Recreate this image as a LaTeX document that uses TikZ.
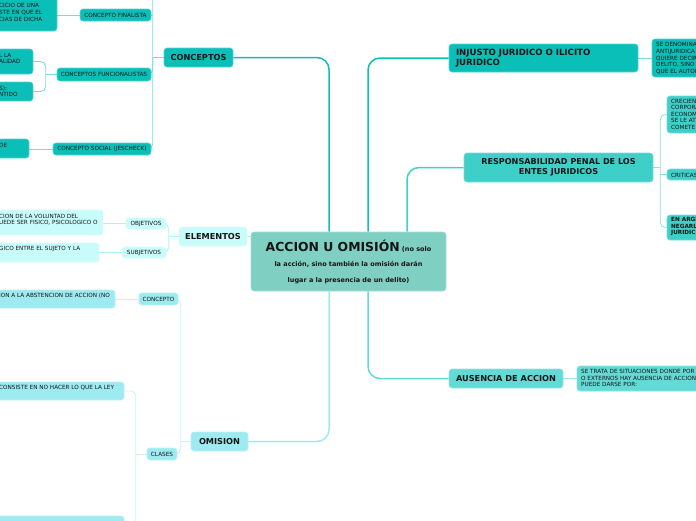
\documentclass[tikz,border=0pt]{standalone}
\usepackage{fontspec}
\setmainfont{DejaVu Sans}
\usetikzlibrary{backgrounds}
\definecolor{cA}{HTML}{0BBFB9}
\definecolor{cR}{HTML}{3FCFC9}
\definecolor{cU}{HTML}{63DAD6}
\definecolor{cC}{HTML}{80CFC3}
\definecolor{cE}{HTML}{C8FCFB}
\definecolor{cO}{HTML}{9DEAF0}
\definecolor{ink}{HTML}{141414}
\begin{document}
\begin{tikzpicture}[x=1pt,y=-1pt,
  box/.style={rounded corners=3pt, inner sep=0pt, draw=#1!70!white, line width=0.6pt, fill=#1, text=ink},
  big/.style={font=\bfseries\fontsize{8.2}{10}\selectfont},
  lab/.style={font=\fontsize{5.7}{6.6}\selectfont},
  leaf/.style={font=\fontsize{5.7}{6.6}\selectfont, align=left, inner sep=0pt, anchor=west, text=ink},
  mainln/.style={line width=1.5pt, rounded corners=12pt},
  subln/.style={line width=0.8pt, rounded corners=5pt},
]
\useasboundingbox (0,0) rectangle (696,520);

% ---------- nodes ----------
\node[box=cC, minimum width=195, minimum height=59, align=center,
      font=\bfseries\fontsize{6.5}{15.5}\selectfont] (center) at (348.5,261.5)
  {{\fontsize{12.4}{15.5}\selectfont ACCION U OMISIÓN} (no solo\\la acción, sino también la omisión darán\\lugar a la presencia de un delito)};

\node[box=cA, minimum width=69, minimum height=19, big] (conceptos) at (198.5,57.5) {CONCEPTOS};
\node[box=cE, minimum width=68, minimum height=19, big] (elementos) at (213,236.5) {ELEMENTOS};
\node[box=cO, minimum width=57, minimum height=19, big] (omision) at (219.5,441.5) {OMISION};
\node[box=cA, minimum width=189, minimum height=28, text width=175, align=left,
      font=\bfseries\fontsize{8.6}{10.2}\selectfont] (injusto) at (543.5,58) {INJUSTO JURIDICO O ILICITO\\JURIDICO};
\node[box=cR, minimum width=189, minimum height=29, align=center,
      font=\bfseries\fontsize{8.1}{10.2}\selectfont] (resp) at (558.5,167.5) {RESPONSABILIDAD PENAL DE LOS\\ENTES JURIDICOS};
\node[box=cU, minimum width=114, minimum height=19, big] (ausencia) at (506,378.5) {AUSENCIA DE ACCION};

% right leaves
\node[box=cA, minimum width=78, minimum height=38] (injleaf) at (691,58) {};
\node[leaf] (injleaft) at (656,58.3) {SE DENOMINA\\ANTIJURIDICA\\QUIERE DECIR\\DELITO, SINO\\QUE EL AUTOR};
\node[box=cR, minimum width=63, minimum height=37] (r1) at (698.5,114.5) {};
\node[leaf] (r1t) at (671,114.3) {CRECIEN\\CORPORA\\ECONOM\\SE LE AT\\COMETE};
\node[box=cR, minimum width=63, minimum height=11] (r2) at (698.5,174.5) {};
\node[leaf] (r2t) at (671,175) {CRITICAS};
\node[box=cR, minimum width=63, minimum height=25] (r3) at (698.5,227.5) {};
\node[leaf, font=\bfseries\fontsize{5.7}{6.6}\selectfont] (r3t) at (671,226.8) {EN ARGE\\NEGARL\\JURIDIC};
\node[box=cU, minimum width=153, minimum height=25] (aleaf) at (653.5,378.5) {};
\node[leaf] (aleaft) at (581,378) {SE TRATA DE SITUACIONES DONDE POR\\O EXTERNOS HAY AUSENCIA DE ACCION\\PUEDE DARSE POR:};

% conceptos children
\node[box=cA, minimum width=71, minimum height=12, lab] (finalista) at (115.5,15) {CONCEPTO FINALISTA};
\node[box=cA, minimum width=77, minimum height=39] (finleaf) at (18.5,11.5) {};
\node[leaf] (finleaft) at (-1,12.4) {CICIO DE UNA\\STE EN QUE EL\\CIAS DE DICHA};
\node[box=cA, minimum width=94, minimum height=13, lab] (func) at (104,74.5) {CONCEPTOS FUNCIONALISTAS};
\node[box=cA, minimum width=53, minimum height=25] (fl1) at (6.5,61.5) {};
\node[leaf] (fl1t) at (-1,58.5) {L LA\\ALIDAD};
\node[box=cA, minimum width=53, minimum height=19] (fl2) at (6.5,91.5) {};
\node[leaf] (fl2t) at (-1,91.5) {S):\\NTIDO};
\node[box=cA, minimum width=98, minimum height=12, lab] (social) at (102,149) {CONCEPTO SOCIAL (JESCHECK)};
\node[box=cA, minimum width=49, minimum height=19] (sleaf) at (4.5,148.5) {};
\node[leaf] (sleaft) at (-1,145.7) {DE};

% elementos children
\node[box=cE, minimum width=40, minimum height=11, lab] (objetivos) at (146,223.5) {OBJETIVOS};
\node[box=cE, minimum width=123, minimum height=25] (oleaf) at (41.5,222.5) {};
\node[leaf] (oleaft) at (-1,219.8) {CION DE LA VOLUNTAD DEL\\UEDE SER FISICO, PSICOLOGICO O};
\node[box=cE, minimum width=44, minimum height=11, lab] (subjetivos) at (144,252.5) {SUBJETIVOS};
\node[box=cE, minimum width=119, minimum height=19] (sjleaf) at (39.5,252.5) {};
\node[leaf] (sjleaft) at (-1,249.2) {GICO ENTRE EL SUJETO Y LA};

% omision children
\node[box=cO, minimum width=39, minimum height=12, lab] (concepto) at (158.5,299) {CONCEPTO};
\node[box=cO, minimum width=135, minimum height=18] (cleaf) at (47.5,299) {};
\node[leaf] (cleaft) at (-1,295.8) {ION A LA ABSTENCION DE ACCION (NO};
\node[box=cO, minimum width=30, minimum height=12, lab] (clases) at (162,454) {CLASES};
\node[box=cO, minimum width=144, minimum height=18] (cl1) at (52,391) {};
\node[leaf] (cl1t) at (-1,387.8) {CONSISTE EN NO HACER LO QUE LA LEY};
\node[box=cO, minimum width=144, minimum height=24] (cl2) at (52,528) {};

% ---------- connectors ----------
\coordinate (top) at (0,-12);
\begin{scope}[on background layer]
\draw[mainln, cA] ([xshift=-19.5]center.north) |- (conceptos.east);
\draw[mainln, cA] ([xshift=19.5]center.north) |- (injusto.west);
\draw[mainln, cR] ([xshift=58.5]center.north) |- (resp.west);
\draw[mainln, cO] ([xshift=-19.5]center.south) |- (omision.east);
\draw[mainln, cU] ([xshift=19.5]center.south) |- (ausencia.west);
\draw[line width=1.5pt, cE!85!cA] (elementos.east) -- (center.west |- elementos.east);

% conceptos
\draw[subln, cA!55!white] (conceptos.west) -- ++(-11,0) coordinate (bC);
\draw[subln, cA!55!white] (bC |- top) |- (social.east);
\draw[subln, cA!55!white] (bC) |- (func.east);
\draw[subln, cA!55!white] (bC |- finalista.east) -- (finalista.east);
\draw[subln, cA!55!white] (finalista.west) -- (finleaf.east |- finalista.west);
\draw[subln, cA!55!white] (func.west) -- ++(-11,0) coordinate (bF);
\draw[subln, cA!55!white] (bF) |- (fl1.east);
\draw[subln, cA!55!white] (bF) |- (fl2.east);
\draw[subln, cA!55!white] (social.west) -- (sleaf.east |- social.west);

% elementos
\draw[subln, cE!85!cA] (elementos.west) -- ++(-10,0) coordinate (bE);
\draw[subln, cE!85!cA] (bE) |- (objetivos.east);
\draw[subln, cE!85!cA] (bE) |- (subjetivos.east);
\draw[subln, cE!85!cA] (objetivos.west) -- (oleaf.east |- objetivos.west);
\draw[subln, cE!85!cA] (subjetivos.west) -- (sjleaf.east |- subjetivos.west);

% omision
\draw[subln, cO!60!white] (omision.west) -- ++(-10,0) coordinate (bO);
\draw[subln, cO!60!white] (bO) |- (concepto.east);
\draw[subln, cO!60!white] (bO) |- (clases.east);
\draw[subln, cO!60!white] (concepto.west) -- (cleaf.east |- concepto.west);
\draw[subln, cO!60!white] (clases.west) -- ++(-11,0) coordinate (bK);
\draw[subln, cO!60!white] (bK) |- (cl1.east);
\draw[subln, cO!60!white] (bK) |- (cl2.east);

% right
\draw[subln, cA!55!white] (injusto.east) -- (injleaf.west |- injusto.east);
\draw[subln, cR!60!white] (resp.east) -- ++(7,0) coordinate (bR);
\draw[subln, cR!60!white] (bR) |- (r1.west);
\draw[subln, cR!60!white] (bR) |- (r3.west);
\draw[subln, cR!60!white] (bR |- r2.west) -- (r2.west);
\draw[subln, cU!60!white] (ausencia.east) -- (aleaf.west |- ausencia.east);
\end{scope}
\end{tikzpicture}
\end{document}
